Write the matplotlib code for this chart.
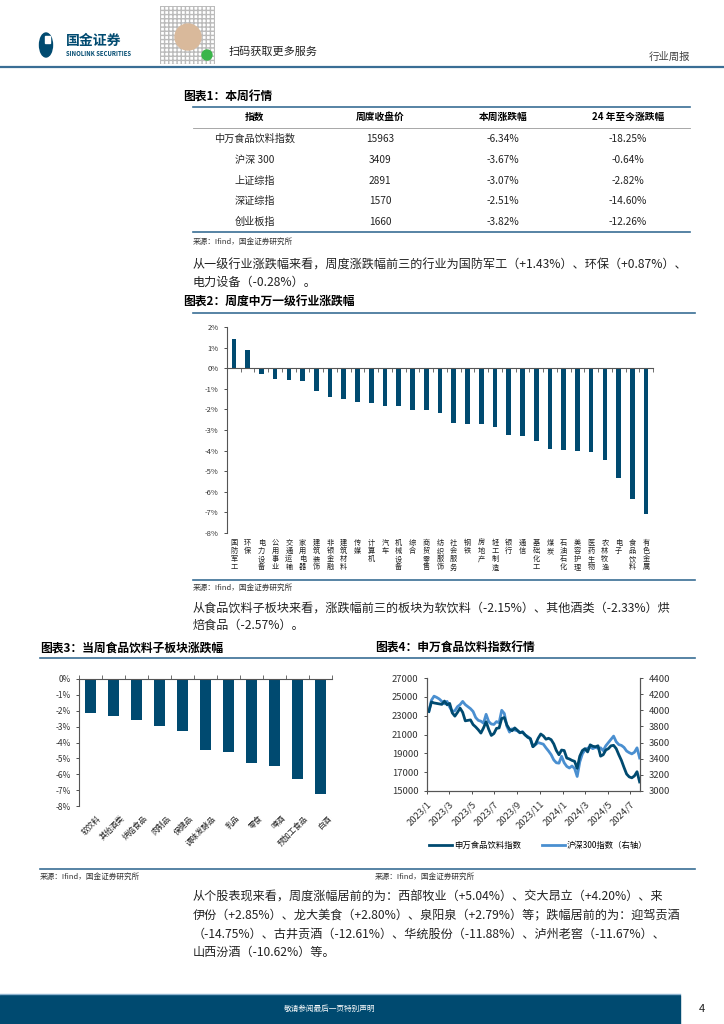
import matplotlib
matplotlib.use('Agg')
import matplotlib.pyplot as plt
import numpy as np
import pandas as pd
from matplotlib.patches import Rectangle, Ellipse, Circle

plt.rcParams['font.family'] = ['Noto Sans CJK SC', 'DejaVu Sans']
plt.rcParams['axes.unicode_minus'] = False

W, H = 724, 1024
DARK = '#004a70'
LIGHT = '#4a8fd0'
RULE = '#3a6e95'
GREY = '#333333'

# table 1
idx_names = ['中万食品饮料指数', '沪深 300', '上证综指', '深证综指', '创业板指']
close_px = [15963, 3409, 2891, 1570, 1660]
week_chg = [-6.34, -3.67, -3.07, -2.51, -3.82]
ytd_chg = [-18.25, -0.64, -2.82, -14.60, -12.26]

# chart 2: sector weekly change (%)
sectors = ['国防军工', '环保', '电力设备', '公用事业', '交通运输', '家用电器', '建筑装饰',
           '非银金融', '建筑材料', '传媒', '计算机', '汽车', '机械设备', '综合', '商贸零售',
           '纺织服饰', '社会服务', '钢铁', '房地产', '轻工制造', '银行', '通信', '基础化工',
           '煤炭', '石油石化', '美容护理', '医药生物', '农林牧渔', '电子', '食品饮料', '有色金属']
sector_chg = [1.43, 0.87, -0.28, -0.50, -0.58, -0.60, -1.12, -1.42, -1.50, -1.64, -1.70,
              -1.83, -1.85, -2.02, -2.02, -2.17, -2.66, -2.69, -2.72, -2.85, -3.25, -3.28,
              -3.52, -3.92, -3.98, -4.03, -4.05, -4.48, -5.32, -6.34, -7.10]

# chart 3: food & beverage sub-sectors (%)
subs = ['软饮料', '其他酒类', '烘焙食品', '肉制品', '保健品', '调味发酵品', '乳品', '零食',
        '啤酒', '预加工食品', '白酒']
sub_chg = [-2.15, -2.33, -2.57, -2.99, -3.26, -4.50, -4.61, -5.28, -5.47, -6.29, -7.24]

# chart 4: weekly index levels
fb_index = [23450, 24450, 24350, 24300, 24250, 24200, 24550, 24150, 24300, 23300, 22950,
            23350, 23800, 23350, 22450, 22500, 22550, 22050, 21800, 21500, 21150, 21700,
            22350, 21550, 20900, 21100, 21650, 21700, 22700, 22800, 22000, 21550, 21400,
            21700, 21450, 21200, 21250, 20950, 20700, 20550, 19700, 20000, 20600, 21050,
            20850, 20500, 20600, 20450, 20000, 19300, 18850, 19350, 19300, 18500, 18400,
            18250, 18150, 17400, 18700, 19300, 19500, 19150, 19900, 19750, 19700, 19800,
            18700, 18850, 19350, 19500, 19800, 19850, 19500, 18850, 18250, 17500, 16800,
            16500, 16400, 16600, 17050, 15963]
hs300 = [3985, 4125, 4175, 4160, 4140, 4110, 4080, 4110, 4040, 3985, 3995, 4045, 4070,
         4110, 4070, 4045, 4020, 3985, 3910, 3875, 3865, 3840, 3950, 3860, 3830, 3825,
         3860, 3845, 4000, 3960, 3800, 3730, 3770, 3755, 3745, 3720, 3735, 3695, 3675,
         3650, 3550, 3575, 3600, 3590, 3580, 3535, 3495, 3450, 3385, 3350, 3345, 3430,
         3350, 3305, 3285, 3310, 3280, 3180, 3360, 3460, 3510, 3530, 3545, 3525, 3540,
         3530, 3535, 3500, 3560, 3600, 3640, 3680, 3610, 3575, 3565, 3540, 3495, 3475,
         3460, 3480, 3535, 3409]
weeks = pd.date_range('2023-01-06', periods=len(fb_index), freq='7D')


def rect(x0, y0, x1, y1):
    return [x0 / W, 1 - y1 / H, (x1 - x0) / W, (y1 - y0) / H]


fig = plt.figure(figsize=(W / 100, H / 100), dpi=100)
bg = fig.add_axes([0, 0, 1, 1])
bg.set_xlim(0, W)
bg.set_ylim(H, 0)
bg.axis('off')

BODY = 8.7

# ---- page header
bg.add_patch(Ellipse((46, 45), 13, 24, color=DARK))
bg.add_patch(Rectangle((45, 36), 5, 7, color='white'))
bg.text(66, 41, '国金证券', fontsize=10, fontweight='bold', color=DARK, va='center')
bg.text(66, 53, 'SINOLINK SECURITIES', fontsize=4.3, fontweight='bold', color=DARK, va='center')
bg.add_patch(Rectangle((160, 6), 55, 58, facecolor='white', edgecolor='#bbbbbb', hatch='++++', lw=0))
bg.add_patch(Circle((188, 37), 13, color='#d9b99b'))
bg.add_patch(Circle((207, 55), 5, color='#3ab54a'))
bg.text(229, 52, '扫码获取更多服务', fontsize=8, color='#222222', va='center')
bg.text(690, 57, '行业周报', fontsize=7.5, color='#444444', va='center', ha='right')
bg.plot([0, W], [67, 67], color=RULE, lw=1.6)

# ---- table 1
bg.text(183, 97, '图表1：本周行情', fontsize=8.5, fontweight='bold', va='center')
bg.plot([193, 690], [107, 107], color=RULE, lw=1.2)
col_x = [255, 380, 503, 628]
heads = ['指数', '周度收盘价', '本周涨跌幅', '24 年至今涨跌幅']
for x, h in zip(col_x, heads):
    bg.text(x, 117, h, fontsize=7, fontweight='bold', ha='center', va='center')
bg.plot([193, 690], [128, 128], color='#999999', lw=0.6)
row_y = [139, 160, 181, 201, 222]
for i, y in enumerate(row_y):
    vals = [idx_names[i], str(close_px[i]), f'{week_chg[i]:.2f}%', f'{ytd_chg[i]:.2f}%']
    for x, v in zip(col_x, vals):
        bg.text(x, y, v, fontsize=7.3, ha='center', va='center', color='#222222')
bg.plot([193, 690], [232, 232], color=RULE, lw=1.2)
bg.text(193, 242, '来源：Ifind，国金证券研究所', fontsize=5.5, color=GREY, va='center')

# ---- paragraph 1
bg.text(193, 265, '从一级行业涨跌幅来看，周度涨跌幅前三的行业为国防军工（+1.43%）、环保（+0.87%）、',
        fontsize=BODY, va='center', color='#222222')
bg.text(193, 282, '电力设备（-0.28%）。', fontsize=BODY, va='center', color='#222222')

# ---- chart 2
bg.text(183, 302, '图表2：周度中万一级行业涨跌幅', fontsize=8.5, fontweight='bold', va='center')
bg.plot([193, 695], [313, 313], color=RULE, lw=1.2)
ax2 = fig.add_axes(rect(227, 327, 653, 533))
xs = np.arange(len(sectors))
ax2.bar(xs, sector_chg, width=0.34, color=DARK)
ax2.set_xlim(-0.5, len(sectors) - 0.5)
ax2.set_ylim(-8, 2)
ax2.set_yticks(range(-8, 3))
ax2.set_yticklabels([f'{v}%' for v in range(-8, 3)])
ax2.spines[['top', 'right']].set_visible(False)
ax2.spines['bottom'].set_position(('data', 0))
ax2.set_xticks(np.arange(-0.5, len(sectors), 1))
ax2.set_xticklabels([])
ax2.tick_params(axis='x', direction='out', length=3, width=0.6, color='#555555')
ax2.tick_params(axis='y', labelsize=5.5, length=2.5, width=0.6, colors=GREY)
ax2.spines['left'].set_color('#555555')
ax2.spines['bottom'].set_color('#555555')
for i, name in enumerate(sectors):
    ax2.annotate('\n'.join(name), (i, -8), xytext=(0, -4), textcoords='offset points',
                 ha='center', va='top', fontsize=5.2, linespacing=1.05, color='#222222',
                 annotation_clip=False)
bg.plot([193, 695], [580, 580], color=RULE, lw=1.2)
bg.text(193, 588, '来源：Ifind，国金证券研究所', fontsize=5.5, color=GREY, va='center')

# ---- paragraph 2
bg.text(193, 608, '从食品饮料子板块来看，涨跌幅前三的板块为软饮料（-2.15%）、其他酒类（-2.33%）烘',
        fontsize=BODY, va='center', color='#222222')
bg.text(193, 625, '焙食品（-2.57%）。', fontsize=BODY, va='center', color='#222222')

# ---- chart 3
bg.text(40, 648, '图表3：当周食品饮料子板块涨跌幅', fontsize=8.5, fontweight='bold', va='center')
bg.text(375, 648, '图表4：申万食品饮料指数行情', fontsize=8.5, fontweight='bold', va='center')
bg.plot([40, 695], [658, 658], color=RULE, lw=1.2)
ax3 = fig.add_axes(rect(79, 679, 332, 806))
xs3 = np.arange(len(subs))
ax3.bar(xs3, sub_chg, width=0.44, color=DARK)
ax3.set_xlim(-0.5, len(subs) - 0.5)
ax3.set_ylim(-8, 0)
ax3.set_yticks(range(-8, 1))
ax3.set_yticklabels([f'{v}%' for v in range(-8, 1)])
ax3.spines[['bottom', 'right']].set_visible(False)
ax3.xaxis.set_ticks_position('top')
ax3.set_xticks(np.arange(-0.5, len(subs), 1))
ax3.set_xticklabels([])
ax3.tick_params(axis='x', direction='out', length=3, width=0.6, color='#555555')
ax3.tick_params(axis='y', labelsize=6, length=2.5, width=0.6, colors=GREY)
ax3.spines['left'].set_color('#555555')
ax3.spines['top'].set_color('#555555')
for i, name in enumerate(subs):
    ax3.annotate(name, (i, -8), xytext=(5, -6), textcoords='offset points', rotation=45,
                 ha='right', va='top', rotation_mode='anchor', fontsize=5.6, color='#222222',
                 annotation_clip=False)

# ---- chart 4
ax4 = fig.add_axes(rect(427, 678, 640, 791))
l1, = ax4.plot(weeks, fb_index, color=DARK, lw=2)
ax4.set_ylim(15000, 27000)
ax4.set_yticks(range(15000, 27001, 2000))
ax4.set_xlim(pd.Timestamp('2023-01-01'), pd.Timestamp('2024-07-27'))
ticks = pd.date_range('2023-01-01', '2024-07-01', freq='2MS')
ax4.set_xticks(ticks)
ax4.set_xticklabels([f'{d.year}/{d.month}' for d in ticks], rotation=45, ha='right',
                    rotation_mode='anchor')
ax4.tick_params(labelsize=6.8, length=2.5, width=0.6, colors=GREY)
ax4.spines['top'].set_visible(False)
axr = ax4.twinx()
l2, = axr.plot(weeks, hs300, color=LIGHT, lw=2)
ax4.set_zorder(axr.get_zorder() + 1)
ax4.patch.set_visible(False)
axr.set_ylim(3000, 4400)
axr.set_yticks(range(3000, 4401, 200))
axr.tick_params(labelsize=6.8, length=2.5, width=0.6, colors=GREY)
axr.spines['top'].set_visible(False)
for a in (ax4, axr):
    for s in a.spines.values():
        s.set_color('#555555')
fig.legend([l1, l2], ['申万食品饮料指数', '沪深300指数（右轴）'], loc='center',
           bbox_to_anchor=(538 / W, 1 - 845 / H), ncol=2, frameon=False, fontsize=6,
           handlelength=2.8, columnspacing=2.5, handletextpad=0.2)

bg.plot([40, 695], [869, 869], color=RULE, lw=1.2)
bg.text(40, 877, '来源：Ifind，国金证券研究所', fontsize=5.5, color=GREY, va='center')
bg.text(375, 877, '来源：Ifind，国金证券研究所', fontsize=5.5, color=GREY, va='center')

# ---- paragraph 3
para = ['从个股表现来看，周度涨幅居前的为：西部牧业（+5.04%）、交大昂立（+4.20%）、来',
        '伊份（+2.85%）、龙大美食（+2.80%）、泉阳泉（+2.79%）等；跌幅居前的为：迎驾贡酒',
        '（-14.75%）、古井贡酒（-12.61%）、华统股份（-11.88%）、泸州老窖（-11.67%）、',
        '山西汾酒（-10.62%）等。']
for k, line in enumerate(para):
    bg.text(193, 897 + k * 18.5, line, fontsize=BODY, va='center', color='#222222')

# ---- footer
bg.plot([0, 680], [994, 994], color='#8fb4d0', lw=1)
bg.add_patch(Rectangle((0, 995), 680, 29, color=DARK))
bg.text(330, 1009, '敬请参阅最后一页特别声明', fontsize=5.5, color='white', ha='center', va='center')
bg.text(702, 1009, '4', fontsize=8, color='#222222', ha='center', va='center')

fig.savefig('out.png', dpi=100)
